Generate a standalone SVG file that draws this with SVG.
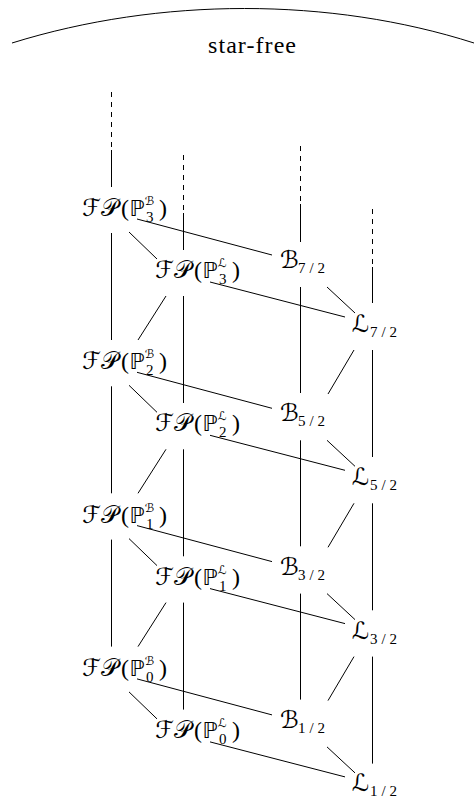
<svg xmlns="http://www.w3.org/2000/svg" width="474" height="801" viewBox="0 0 474 801">
<style>
.c{stroke:#000;stroke-width:1;fill:none}
.d{stroke-dasharray:5 5}
.lbl{font-family:'Liberation Serif','Times New Roman','DejaVu Serif',serif;font-size:24px;fill:#000}
.cal{font-family:'DejaVu Serif','DejaVu Sans','Noto Sans CJK SC',serif}
.bb{font-family:'DejaVu Sans','Noto Sans',sans-serif;font-size:22px}
.sup{font-family:'DejaVu Serif','DejaVu Sans',serif;font-size:12px}
.sub{font-size:15px}
</style>
<rect width="474" height="801" fill="#fff"/>
<g id="starfree">
<path class="c" d="M12,43 C160,-3 330,-3 474,43"/>
<text class="lbl" font-family="Liberation Serif, serif" x="208" y="53" textLength="88" lengthAdjust="spacing">star-free</text>
</g>
<g id="connectors">
<path class="c d" d="M111.5,92V150M183.5,155V213M300.5,146V204M372.5,209V267"/>
<path class="c" d="M111.5,150V187M183.5,213V250M300.5,204V242M372.5,267V303
M111.5,233V340M111.5,386.3V493.3M111.5,539.6V646.6
M183.5,296V403M183.5,449.3V556.3M183.5,602.6V709.6
M300.5,287V393M300.5,440.3V546.3M300.5,593.6V699.6
M372.5,350V457M372.5,503.3V610.3M372.5,656.6V763.6"/>
<path class="c" d="M129,232L157,259M137,219L272,255M210,282L345,317M327,287L355,313M166,296L138,340M354,350L328,394
M129,385.3L157,412.3M137,372.3L272,408.3M210,435.3L345,470.3M327,440.3L355,466.3M166,449.3L138,493.3M354,503.3L328,547.3
M129,538.6L157,565.6M137,525.6L272,561.6M210,588.6L345,623.6M327,593.6L355,619.6M166,602.6L138,646.6M354,656.6L328,700.6
M129,691.9L157,718.9M137,678.9L272,714.9M210,741.9L345,776.9M327,746.9L355,772.9"/>
</g>
<g id="fpb3" transform="translate(82,216)"><text class="lbl"><tspan class="cal" x="0">ℱ</tspan><tspan class="cal" x="19">𝒫</tspan><tspan x="39">(</tspan><tspan class="bb" x="47.5">ℙ</tspan><tspan class="sup" x="63" y="-11">ℬ</tspan><tspan class="sub" x="64" y="6">3</tspan><tspan x="77" y="0">)</tspan></text></g>
<g id="fpb2" transform="translate(82,369.3)"><text class="lbl"><tspan class="cal" x="0">ℱ</tspan><tspan class="cal" x="19">𝒫</tspan><tspan x="39">(</tspan><tspan class="bb" x="47.5">ℙ</tspan><tspan class="sup" x="63" y="-11">ℬ</tspan><tspan class="sub" x="64" y="6">2</tspan><tspan x="77" y="0">)</tspan></text></g>
<g id="fpb1" transform="translate(82,522.6)"><text class="lbl"><tspan class="cal" x="0">ℱ</tspan><tspan class="cal" x="19">𝒫</tspan><tspan x="39">(</tspan><tspan class="bb" x="47.5">ℙ</tspan><tspan class="sup" x="63" y="-11">ℬ</tspan><tspan class="sub" x="64" y="6">1</tspan><tspan x="77" y="0">)</tspan></text></g>
<g id="fpb0" transform="translate(82,675.9)"><text class="lbl"><tspan class="cal" x="0">ℱ</tspan><tspan class="cal" x="19">𝒫</tspan><tspan x="39">(</tspan><tspan class="bb" x="47.5">ℙ</tspan><tspan class="sup" x="63" y="-11">ℬ</tspan><tspan class="sub" x="64" y="6">0</tspan><tspan x="77" y="0">)</tspan></text></g>
<g id="fpl3" transform="translate(155,278)"><text class="lbl"><tspan class="cal" x="0">ℱ</tspan><tspan class="cal" x="19">𝒫</tspan><tspan x="39">(</tspan><tspan class="bb" x="47.5">ℙ</tspan><tspan class="sup" x="63" y="-11">ℒ</tspan><tspan class="sub" x="64" y="6">3</tspan><tspan x="77" y="0">)</tspan></text></g>
<g id="fpl2" transform="translate(155,431.3)"><text class="lbl"><tspan class="cal" x="0">ℱ</tspan><tspan class="cal" x="19">𝒫</tspan><tspan x="39">(</tspan><tspan class="bb" x="47.5">ℙ</tspan><tspan class="sup" x="63" y="-11">ℒ</tspan><tspan class="sub" x="64" y="6">2</tspan><tspan x="77" y="0">)</tspan></text></g>
<g id="fpl1" transform="translate(155,584.6)"><text class="lbl"><tspan class="cal" x="0">ℱ</tspan><tspan class="cal" x="19">𝒫</tspan><tspan x="39">(</tspan><tspan class="bb" x="47.5">ℙ</tspan><tspan class="sup" x="63" y="-11">ℒ</tspan><tspan class="sub" x="64" y="6">1</tspan><tspan x="77" y="0">)</tspan></text></g>
<g id="fpl0" transform="translate(155,737.9)"><text class="lbl"><tspan class="cal" x="0">ℱ</tspan><tspan class="cal" x="19">𝒫</tspan><tspan x="39">(</tspan><tspan class="bb" x="47.5">ℙ</tspan><tspan class="sup" x="63" y="-11">ℒ</tspan><tspan class="sub" x="64" y="6">0</tspan><tspan x="77" y="0">)</tspan></text></g>
<g id="b72" transform="translate(280,268)"><text class="lbl"><tspan class="cal" x="0">ℬ</tspan><tspan class="sub" x="18" y="5" textLength="27" lengthAdjust="spacing">7/2</tspan></text></g>
<g id="b52" transform="translate(280,421.3)"><text class="lbl"><tspan class="cal" x="0">ℬ</tspan><tspan class="sub" x="18" y="5" textLength="27" lengthAdjust="spacing">5/2</tspan></text></g>
<g id="b32" transform="translate(280,574.6)"><text class="lbl"><tspan class="cal" x="0">ℬ</tspan><tspan class="sub" x="18" y="5" textLength="27" lengthAdjust="spacing">3/2</tspan></text></g>
<g id="b12" transform="translate(280,727.9)"><text class="lbl"><tspan class="cal" x="0">ℬ</tspan><tspan class="sub" x="18" y="5" textLength="27" lengthAdjust="spacing">1/2</tspan></text></g>
<g id="l72" transform="translate(352,332)"><text class="lbl"><tspan class="cal" x="0">ℒ</tspan><tspan class="sub" x="18" y="5" textLength="27" lengthAdjust="spacing">7/2</tspan></text></g>
<g id="l52" transform="translate(352,485.3)"><text class="lbl"><tspan class="cal" x="0">ℒ</tspan><tspan class="sub" x="18" y="5" textLength="27" lengthAdjust="spacing">5/2</tspan></text></g>
<g id="l32" transform="translate(352,638.6)"><text class="lbl"><tspan class="cal" x="0">ℒ</tspan><tspan class="sub" x="18" y="5" textLength="27" lengthAdjust="spacing">3/2</tspan></text></g>
<g id="l12" transform="translate(352,791)"><text class="lbl"><tspan class="cal" x="0">ℒ</tspan><tspan class="sub" x="18" y="5" textLength="27" lengthAdjust="spacing">1/2</tspan></text></g>
</svg>
